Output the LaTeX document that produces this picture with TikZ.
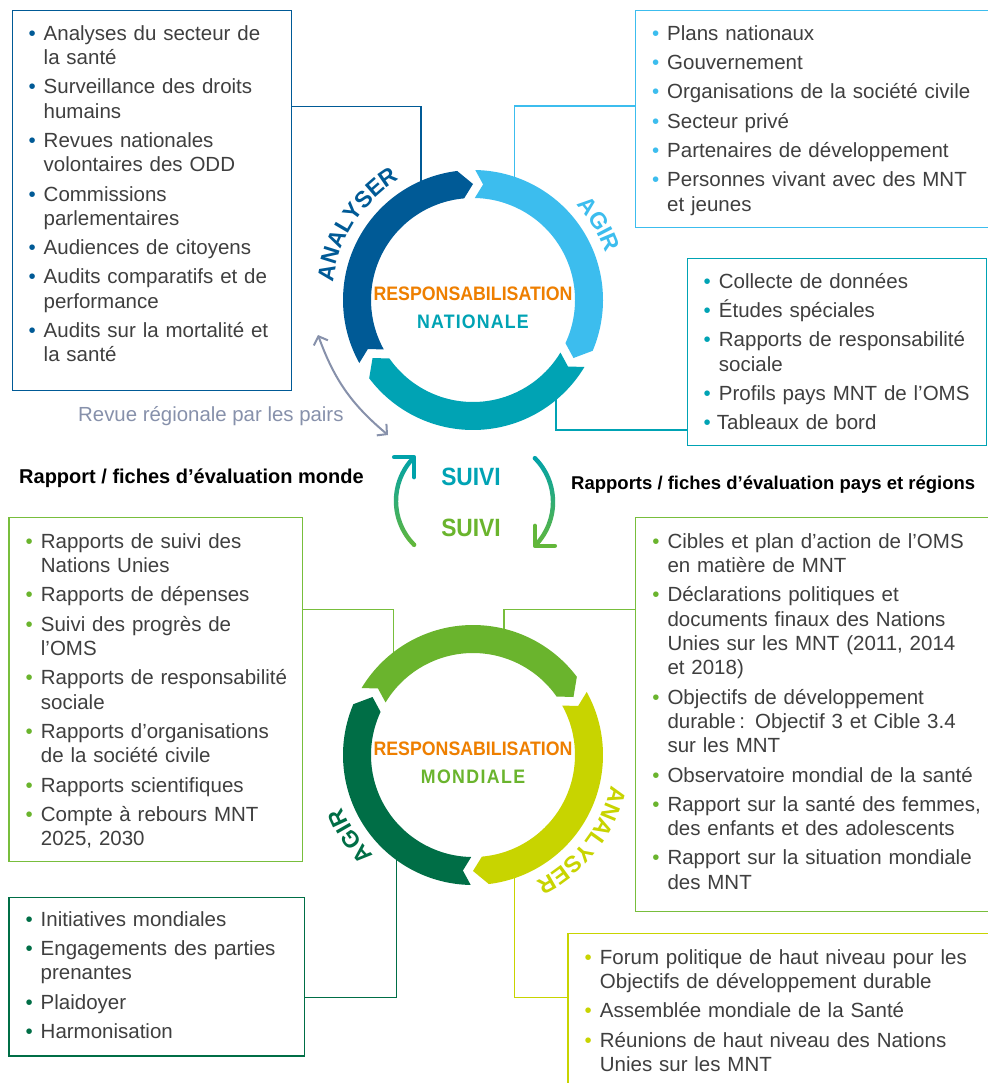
\documentclass[tikz,border=0pt]{standalone}
\usepackage{fontspec}
\setmainfont{Liberation Sans}
\newfontfamily\cbf[FakeStretch=0.91]{Liberation Sans}
\usetikzlibrary{arrows.meta}
\definecolor{cDB}{HTML}{005A96}
\definecolor{cLB}{HTML}{3CBDEE}
\definecolor{cTe}{HTML}{00A3B4}
\definecolor{cOr}{HTML}{EE7F00}
\definecolor{cGr}{HTML}{6AB42D}
\definecolor{cGrBox}{HTML}{78BE3C}
\definecolor{cYG}{HTML}{C8D400}
\definecolor{cDG}{HTML}{006E46}
\definecolor{cTxt}{HTML}{3F3F3F}
\definecolor{cPeer}{HTML}{8791AB}
\definecolor{sTeal}{HTML}{00A2AA}
\definecolor{sGreen}{HTML}{62B73A}
\newcommand{\itm}[2]{\par\noindent\llap{\textcolor{#1}{\textbullet}\hspace{8pt}}#2}
% ring arrow segment: colour, tail junction angle, head junction angle (clockwise)
\newcommand{\ringarrow}[3]{%
  \fill[#1] ({#2-1}:130) arc[start angle={#2-1}, end angle={#3+7}, radius=130]
    -- (#3:116) -- ({#3+5}:102)
    arc[start angle={#3+5}, end angle={#2-1}, radius=102]
    -- ({#2-5}:116) -- cycle;}
% letters along the ring: colour, centre angle, letter/offset list, name prefix
\newcommand{\arcword}[4]{%
  \foreach \ch/\o [count=\k] in {#3}
    {\node[arclbl, text=#1, rotate={#2-(\o)-90}, anchor=base] (#4\k) at ({#2-(\o)}:141) {\ch};}}
\begin{document}
\begin{tikzpicture}[x=1pt,y=1pt,
  boxst/.style={draw, line width=1.4pt, inner sep=0pt, anchor=north west},
  txt/.style={anchor=base west, inner sep=0pt, text width=400pt, align=left, text=cTxt,
    font=\fontsize{20.5}{24.3}\selectfont},
  conn/.style={line width=1.4pt},
  arclbl/.style={inner sep=0pt, font=\bfseries\fontsize{23}{23}\selectfont},
  ctr/.style={anchor=base, inner sep=0pt, font=\cbf\bfseries\fontsize{19.5}{20}\selectfont},
  suivi/.style={anchor=base, inner sep=0pt, font=\cbf\bfseries\fontsize{25}{26}\selectfont},
  peer/.style={line width=2pt, cPeer, >={Straight Barb[length=7pt,width=15pt]}},
]
\useasboundingbox (0,0) rectangle (987,-1083);
\fill[white] (0,0) rectangle (987,-1083);

% ---------- boxes ----------
\node[boxst, draw=cDB, minimum width=279, minimum height=380] (boxA) at (12,-10) {};
\node[boxst, draw=cLB, minimum width=380, minimum height=217] (boxB) at (635,-10) {};
\node[boxst, draw=cTe, minimum width=299.5, minimum height=186.5] (boxC) at (686.5,-258) {};
\node[boxst, draw=cGrBox, minimum width=293.7, minimum height=344.3] (boxD) at (8.3,-516.7) {};
\node[boxst, draw=cDG, minimum width=295.7, minimum height=158.7] (boxE) at (8.3,-896.7) {};
\node[boxst, draw=cGrBox, minimum width=380, minimum height=394] (boxF) at (635,-516.7) {};
\node[boxst, draw=cYG, minimum width=450, minimum height=200] (boxG) at (567.3,-933) {};

% ---------- box texts ----------
\node[txt] (tA) at (43.5,-11) {\setlength\parskip{5pt}%
\itm{cDB}{Analyses du secteur de\\la santé}
\itm{cDB}{Surveillance des droits\\humains}
\itm{cDB}{Revues nationales\\volontaires des ODD}
\itm{cDB}{Commissions\\parlementaires}
\itm{cDB}{Audiences de citoyens}
\itm{cDB}{Audits comparatifs et de\\performance}
\itm{cDB}{Audits sur la mortalité et\\la santé}};

\node[txt] (tB) at (667,-11) {\setlength\parskip{5pt}%
\itm{cLB}{Plans nationaux}
\itm{cLB}{Gouvernement}
\itm{cLB}{Organisations de la société civile}
\itm{cLB}{Secteur privé}
\itm{cLB}{Partenaires de développement}
\itm{cLB}{Personnes vivant avec des MNT\\et jeunes}};

\node[txt] (tC) at (718.7,-259) {\setlength\parskip{5pt}%
\itm{cTe}{Collecte de données}
\itm{cTe}{Études spéciales}
\itm{cTe}{Rapports de responsabilité\\sociale}
\itm{cTe}{Profils pays MNT de l’OMS}
\itm{cTe}{\hspace{-2pt}Tableaux de bord}};

\node[txt] (tD) at (40.7,-519) {\setlength\parskip{5pt}%
\itm{cGr}{Rapports de suivi des\\Nations Unies}
\itm{cGr}{Rapports de dépenses}
\itm{cGr}{Suivi des progrès de\\l’OMS}
\itm{cGr}{Rapports de responsabilité\\sociale}
\itm{cGr}{Rapports d’organisations\\de la société civile}
\itm{cGr}{Rapports scientifiques}
\itm{cGr}{Compte à rebours MNT\\2025, 2030}};

\node[txt] (tE) at (40.5,-897) {\setlength\parskip{5pt}%
\itm{cDG}{Initiatives mondiales}
\itm{cDG}{Engagements des parties\\prenantes}
\itm{cDG}{Plaidoyer}
\itm{cDG}{Harmonisation}};

\node[txt] (tF) at (667.3,-519) {\setlength\parskip{5pt}%
\itm{cGr}{Cibles et plan d’action de l’OMS\\en matière de MNT}
\itm{cGr}{Déclarations politiques et\\documents finaux des Nations\\Unies sur les MNT (2011, 2014\\et 2018)}
\itm{cGr}{Objectifs de développement\\durable\,: Objectif 3 et Cible 3.4\\sur les MNT}
\itm{cGr}{Observatoire mondial de la santé}
\itm{cGr}{Rapport sur la santé des femmes,\\des enfants et des adolescents}
\itm{cGr}{Rapport sur la situation mondiale\\des MNT}};

\node[txt] (tG) at (599.7,-935) {\setlength\parskip{5pt}%
\itm{cYG}{Forum politique de haut niveau pour les\\Objectifs de développement durable}
\itm{cYG}{Assemblée mondiale de la Santé}
\itm{cYG}{Réunions de haut niveau des Nations\\Unies sur les MNT}};

% ---------- connectors ----------
\coordinate (eA) at (421,-196);
\coordinate (eB) at (514.3,-191.5);
\coordinate (eC) at (556,-381);
\coordinate (eD) at (393.3,-671);
\coordinate (eE) at (396.7,-842);
\coordinate (eF) at (504,-643);
\coordinate (eG) at (514.3,-863);
\draw[conn, cDB] ([yshift=-96.5]boxA.north east) -| (eA);
\draw[conn, cLB] ([yshift=-96]boxB.north west) -| (eB);
\draw[conn, cTe] ([yshift=-172]boxC.north west) -| (eC);
\draw[conn, cGrBox] ([yshift=-93]boxD.north east) -| (eD);
\draw[conn, cDG] ([yshift=-100.7]boxE.north east) -| (eE);
\draw[conn, cGrBox] ([yshift=-93]boxF.north west) -| (eF);
\draw[conn, cYG] ([yshift=-64.4]boxG.north west) -| (eG);

% ---------- national ring ----------
\begin{scope}[shift={(473,-300)}]
  \ringarrow{cDB}{210}{90}
  \ringarrow{cLB}{90}{-30}
  \ringarrow{cTe}{-30}{-150}
  \arcword{cDB}{147}{A/-22.33,N/-15.58,A/-8.84,L/-2.61,Y/3.36,S/9.60,E/15.83,R/22.32}{nan}
  \arcword{cLB}{31}{A/-8.31,G/-1.30,I/3.64,R/8.31}{nag}
\end{scope}
\node[ctr, text=cOr] (resp1) at (473,-300) {RESPONSABILISATION};
\node[ctr, text=cTe] (nat) at (473,-328) {\addfontfeature{LetterSpace=6}NATIONALE};

% ---------- global ring ----------
\begin{scope}[shift={(473,-755)}]
  \ringarrow{cGr}{150}{30}
  \ringarrow{cYG}{30}{-90}
  \ringarrow{cDG}{-90}{-210}
  \arcword{cYG}{-38}{A/-22.33,N/-15.58,A/-8.84,L/-2.61,Y/3.36,S/9.60,E/15.83,R/22.32}{gan}
  \arcword{cDG}{213.5}{A/-8.31,G/-1.30,I/3.64,R/8.31}{gag}
\end{scope}
\node[ctr, text=cOr] (resp2) at (473,-755) {RESPONSABILISATION};
\node[ctr, text=cGr] (mond) at (473,-783) {\addfontfeature{LetterSpace=7}MONDIALE};

% ---------- peer review ----------
\coordinate (pr1) at (318,-335);
\coordinate (pr2) at (388,-435);
\draw[peer, <->] (pr1) to[bend right=15] (pr2);
\node[anchor=base west, inner sep=0pt, text=cPeer, font=\fontsize{20.4}{22}\selectfont] (peerlbl) at (78,-421) {Revue régionale par les pairs};

% ---------- suivi ----------
\node[anchor=base west, inner sep=0pt, font=\bfseries\fontsize{20}{21}\selectfont] (lblL) at (19,-483) {Rapport / fiches d’évaluation monde};
\node[anchor=base west, inner sep=0pt, font=\bfseries\fontsize{18.5}{21}\selectfont] (lblR) at (571,-489) {Rapports / fiches d’évaluation pays et régions};
\node[suivi, text=cTe] (suivi1) at (471,-485) {SUIVI};
\node[suivi, text=cGr] (suivi2) at (471,-536) {SUIVI};

\begin{scope}[shift={(458,-501)}]
  \shade[top color=sTeal, bottom color=sGreen] (225:64.2) arc[start angle=225, end angle=136, radius=64.2]
    -- (136:59.8) arc[start angle=136, end angle=225, radius=59.8] -- cycle;
  \fill[sGreen] (225:62) circle (2.2);
  \coordinate (sL) at (135:62);
  \draw[line width=4.4pt, sTeal, line cap=round, line join=round] ([xshift=-20]sL) -- (sL) -- ([yshift=-20]sL);
\end{scope}
\begin{scope}[shift={(491,-502)}]
  \shade[top color=sTeal, bottom color=sGreen] (45:64.2) arc[start angle=45, end angle=-44, radius=64.2]
    -- (-44:59.8) arc[start angle=-44, end angle=45, radius=59.8] -- cycle;
  \fill[sTeal] (45:62) circle (2.2);
  \coordinate (sR) at (-45:62);
  \draw[line width=4.4pt, sGreen, line cap=round, line join=round] ([yshift=20]sR) -- (sR) -- ([xshift=20]sR);
\end{scope}
\end{tikzpicture}
\end{document}
